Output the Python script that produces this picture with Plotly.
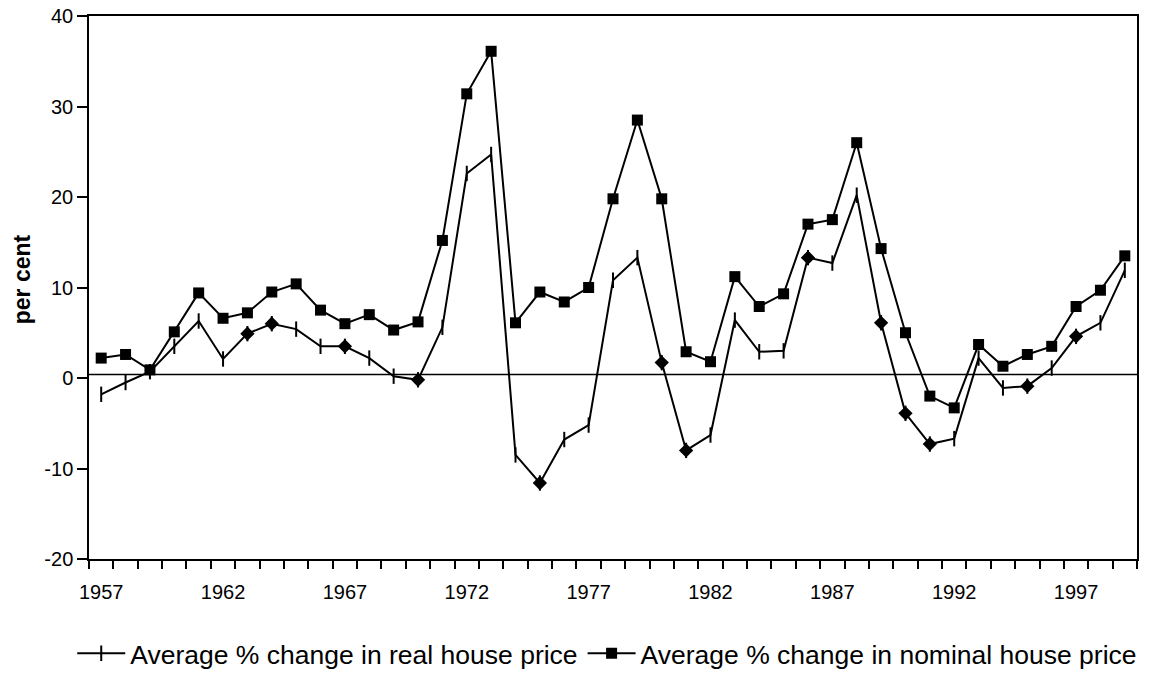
import plotly.graph_objects as go

years = list(range(1957, 2000))
real_change = [-1.8, -0.5, 0.7, 3.5, 6.3, 2.1, 4.9, 6.0, 5.4, 3.5, 3.5, 2.2, 0.2, -0.2,
               5.6, 22.6, 24.7, -8.5, -11.6, -6.8, -5.2, 10.8, 13.3, 1.7, -8.0, -6.3,
               6.4, 2.9, 3.0, 13.3, 12.7, 20.2, 6.1, -3.9, -7.3, -6.7, 2.2, -1.1,
               -0.9, 1.1, 4.6, 6.1, 11.9]
nominal_change = [2.2, 2.6, 0.9, 5.1, 9.4, 6.6, 7.2, 9.5, 10.4, 7.5, 6.0, 7.0, 5.3, 6.2,
                  15.2, 31.4, 36.1, 6.1, 9.5, 8.4, 10.0, 19.8, 28.5, 19.8, 2.9, 1.8,
                  11.2, 7.9, 9.3, 17.0, 17.5, 26.0, 14.3, 5.0, -2.0, -3.3, 3.7, 1.3,
                  2.6, 3.5, 7.9, 9.7, 13.5]
label_years = [1957, 1962, 1967, 1972, 1977, 1982, 1987, 1992, 1997]
y_ticks = [-20, -10, 0, 10, 20, 30, 40]
y_ticktext = ["-20", "-10", "0", "10", "20", "30", "40"]
diamond_years = [1963, 1964, 1967, 1970, 1975, 1980, 1981, 1986, 1989, 1990, 1991, 1995, 1997]

FONT = "Arial, Liberation Sans, sans-serif"
diamond_x = [y for y in years if y in diamond_years]
diamond_y = [v for y, v in zip(years, real_change) if y in diamond_years]

fig = go.Figure()
fig.add_trace(go.Scatter(
    x=years, y=real_change, mode="lines+markers",
    name="Average % change in real house price",
    line=dict(color="black", width=2),
    marker=dict(symbol="line-ns", size=11, color="black",
                line=dict(color="black", width=2)),
))
fig.add_trace(go.Scatter(
    x=diamond_x, y=diamond_y, mode="markers", showlegend=False, hoverinfo="skip",
    marker=dict(symbol="diamond", size=11, color="black", opacity=1,
                line=dict(color="black", width=0)),
))
fig.add_trace(go.Scatter(
    x=years, y=nominal_change, mode="lines+markers",
    name="Average % change in nominal house price",
    line=dict(color="black", width=2),
    marker=dict(symbol="square", size=11, color="black"),
))

fig.add_shape(type="line", xref="paper", yref="y", x0=0, x1=1, y0=0.4, y1=0.4,
              line=dict(color="black", width=1.5), layer="below")

fig.add_annotation(text="<b>per cent</b>", textangle=-90, xref="paper", yref="paper",
                   x=-0.064, y=0.515, xanchor="center", yanchor="middle",
                   showarrow=False, font=dict(family=FONT, size=23, color="black"))

fig.update_layout(
    template="none",
    width=1161, height=678,
    margin=dict(l=89, r=24, t=16, b=119, autoexpand=False),
    plot_bgcolor="white", paper_bgcolor="white",
    font=dict(family=FONT, color="black"),
    showlegend=True,
    legend=dict(orientation="h", x=-0.016, xanchor="left", y=-0.130, yanchor="top",
                font=dict(family=FONT, size=26.5, color="black"),
                itemwidth=48, tracegroupgap=0, bgcolor="rgba(0,0,0,0)"),
    xaxis=dict(range=[1956.5, 1999.5], tickmode="array", tickvals=label_years,
               ticktext=[str(y) for y in label_years], automargin=False,
               ticklabeloverflow="allow",
               ticks="outside", ticklen=14, tickcolor="rgba(0,0,0,0)",
               tickfont=dict(family=FONT, size=20, color="black"),
               showgrid=False, zeroline=False,
               showline=True, linecolor="black", linewidth=1.5, mirror=True,
               minor=dict(tick0=1956.5, dtick=1, ticks="outside", ticklen=8,
                          tickcolor="black", tickwidth=1.5, showgrid=False)),
    yaxis=dict(range=[-20, 40], tickmode="array", tickvals=y_ticks, ticktext=y_ticktext,
               automargin=False, ticklabeloverflow="allow",
               ticks="outside", ticklen=10, tickcolor="black", tickwidth=1.5,
               tickfont=dict(family=FONT, size=20, color="black"),
               showgrid=False, zeroline=False,
               showline=True, linecolor="black", linewidth=1.5, mirror=True),
)

fig.write_html("out.html", config={"displayModeBar": False},
               post_script="document.body.style.margin='0';document.body.style.overflow='hidden';")
